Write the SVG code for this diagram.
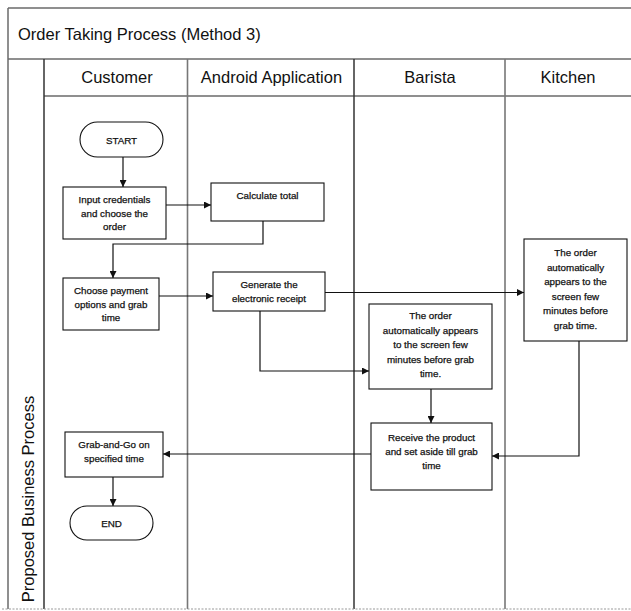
<svg xmlns="http://www.w3.org/2000/svg" width="631" height="611" viewBox="0 0 631 611">
  <style>
    .frame { fill: none; stroke: #6a6a6a; stroke-width: 1.5; }
    .lane { fill: none; stroke: #333; stroke-width: 1.5; }
    .lane-lt { fill: none; stroke: #777; stroke-width: 1.6; }
    .hdr { font-family: "Liberation Sans", Arial, sans-serif; font-size: 16.5px; fill: #111; }
    .box { fill: #fff; stroke: #111; stroke-width: 1.1; }
    .txt { font-family: "Liberation Sans", Arial, sans-serif; font-size: 9.8px; fill: #111; stroke: #111; stroke-width: 0.25; text-anchor: middle; }
    .conn { fill: none; stroke: #111; stroke-width: 1.2; }
  </style>
  <defs>
    <marker id="arrow" viewBox="0 0 10 10" refX="10" refY="5" markerWidth="7" markerHeight="7" markerUnits="userSpaceOnUse" orient="auto">
      <path d="M0,0 L10,5 L0,10 z" fill="#111"/>
    </marker>
  </defs>

  <rect width="631" height="611" fill="#fff"/>

  <!-- pool frame and swimlanes -->
  <g id="pool">
    <line class="frame" x1="8" y1="8" x2="631" y2="8"/>
    <line class="frame" x1="8" y1="8" x2="8" y2="609"/>
    <line class="frame" x1="8" y1="59" x2="631" y2="59"/>
    <line class="frame" x1="44" y1="96" x2="631" y2="96"/>
    <line class="lane" x1="44" y1="59" x2="44" y2="609"/>
    <line class="lane-lt" x1="187.5" y1="59" x2="187.5" y2="609"/>
    <line class="lane" x1="354" y1="59" x2="354" y2="609"/>
    <line class="lane-lt" x1="505" y1="59" x2="505" y2="609"/>
    <line x1="2" y1="609" x2="631" y2="609" stroke="#999" stroke-width="1.2" stroke-dasharray="2,1.5"/>
    <text class="hdr" x="18" y="40" font-size="16.8">Order Taking Process (Method 3)</text>
    <text class="hdr" x="117" y="83" text-anchor="middle">Customer</text>
    <text class="hdr" x="271.5" y="83" text-anchor="middle">Android Application</text>
    <text class="hdr" x="430" y="83" text-anchor="middle">Barista</text>
    <text class="hdr" x="568" y="83" text-anchor="middle">Kitchen</text>
    <text class="hdr" transform="translate(34,499) rotate(-90)" text-anchor="middle" font-size="17">Proposed Business Process</text>
  </g>

  <!-- connectors -->
  <g id="connectors">
    <line class="conn" x1="123" y1="157" x2="123" y2="187" marker-end="url(#arrow)"/>
    <line class="conn" x1="166" y1="205" x2="211" y2="205" marker-end="url(#arrow)"/>
    <polyline class="conn" points="263,221 263,244 113,244 113,278" marker-end="url(#arrow)"/>
    <line class="conn" x1="159" y1="296" x2="213" y2="296" marker-end="url(#arrow)"/>
    <line class="conn" x1="325" y1="292.5" x2="524" y2="292.5" marker-end="url(#arrow)"/>
    <polyline class="conn" points="260,311 260,371 369,371" marker-end="url(#arrow)"/>
    <line class="conn" x1="431" y1="389" x2="431" y2="423" marker-end="url(#arrow)"/>
    <polyline class="conn" points="579,341 579,456 492,456" marker-end="url(#arrow)"/>
    <line class="conn" x1="371" y1="454" x2="163" y2="454" marker-end="url(#arrow)"/>
    <line class="conn" x1="113" y1="477" x2="113" y2="506" marker-end="url(#arrow)"/>
  </g>

  <!-- customer lane -->
  <g id="start">
    <rect class="box" x="80" y="122" width="83" height="35" rx="17.5"/>
    <text class="txt" x="121.5" y="143.5">START</text>
  </g>
  <g id="input-credentials">
    <rect class="box" x="63" y="187" width="103" height="52"/>
    <text class="txt" x="114.5" y="203">Input credentials</text>
    <text class="txt" x="114.5" y="216.5">and choose the</text>
    <text class="txt" x="114.5" y="230">order</text>
  </g>
  <g id="choose-payment">
    <rect class="box" x="63" y="278" width="96" height="52"/>
    <text class="txt" x="111" y="294">Choose payment</text>
    <text class="txt" x="111" y="307.5">options and grab</text>
    <text class="txt" x="111" y="321">time</text>
  </g>
  <g id="grab-and-go">
    <rect class="box" x="65" y="432" width="98" height="45"/>
    <text class="txt" x="114" y="448">Grab-and-Go on</text>
    <text class="txt" x="114" y="462">specified time</text>
  </g>
  <g id="end">
    <rect class="box" x="70" y="506" width="83" height="34" rx="17"/>
    <text class="txt" x="111.5" y="526.5">END</text>
  </g>

  <!-- android application lane -->
  <g id="calculate-total">
    <rect class="box" x="211" y="183" width="113" height="38"/>
    <text class="txt" x="267.5" y="199">Calculate total</text>
  </g>
  <g id="generate-receipt">
    <rect class="box" x="213" y="272" width="112" height="39"/>
    <text class="txt" x="269" y="288">Generate the</text>
    <text class="txt" x="269" y="301.5">electronic receipt</text>
  </g>

  <!-- barista lane -->
  <g id="barista-order-screen">
    <rect class="box" x="369" y="304" width="123" height="85"/>
    <text class="txt" x="430.5" y="319">The order</text>
    <text class="txt" x="430.5" y="333.5">automatically appears</text>
    <text class="txt" x="430.5" y="348">to the screen few</text>
    <text class="txt" x="430.5" y="362.5">minutes before grab</text>
    <text class="txt" x="430.5" y="377">time.</text>
  </g>
  <g id="receive-product">
    <rect class="box" x="371" y="423" width="121" height="67"/>
    <text class="txt" x="431.5" y="441">Receive the product</text>
    <text class="txt" x="431.5" y="455">and set aside till grab</text>
    <text class="txt" x="431.5" y="469">time</text>
  </g>

  <!-- kitchen lane -->
  <g id="kitchen-order-screen">
    <rect class="box" x="524" y="239" width="103" height="102"/>
    <text class="txt" x="575.5" y="256">The order</text>
    <text class="txt" x="575.5" y="270.5">automatically</text>
    <text class="txt" x="575.5" y="285">appears to the</text>
    <text class="txt" x="575.5" y="299.5">screen few</text>
    <text class="txt" x="575.5" y="314">minutes before</text>
    <text class="txt" x="575.5" y="328.5">grab time.</text>
  </g>
</svg>
